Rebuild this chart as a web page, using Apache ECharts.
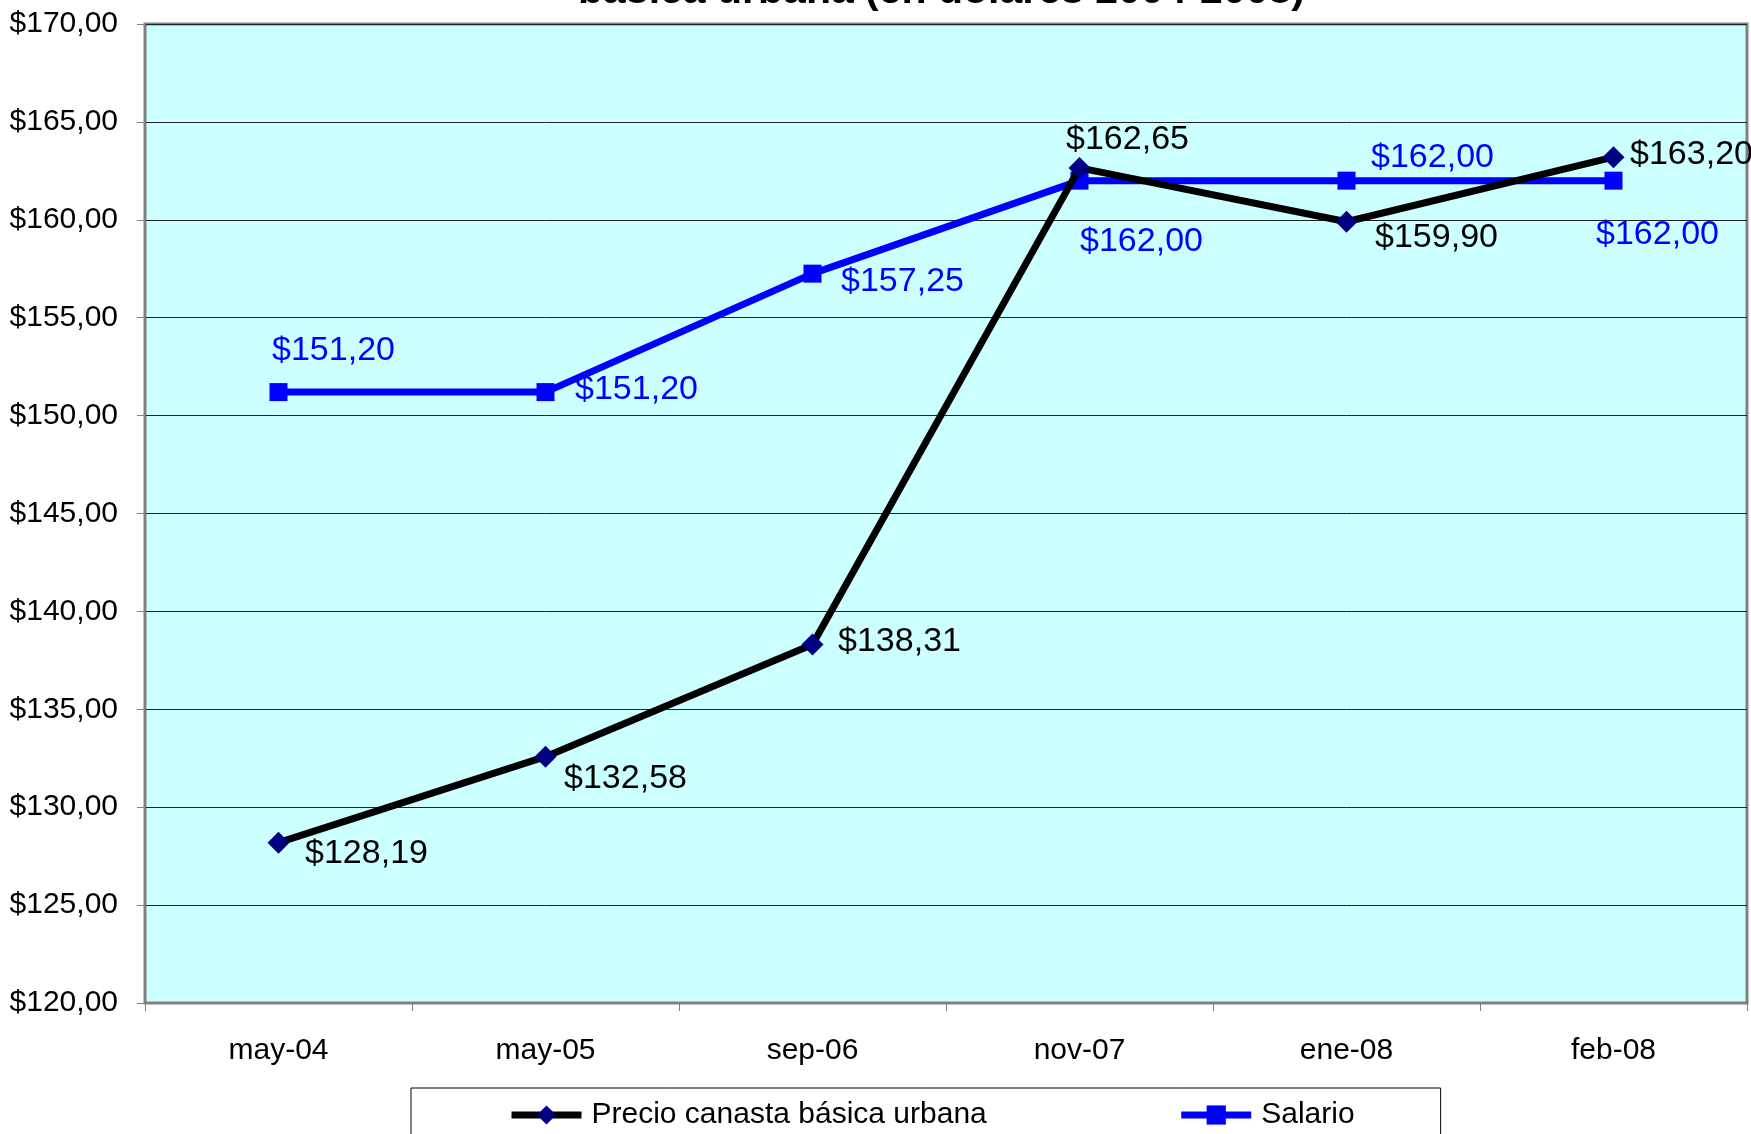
<!DOCTYPE html>
<html>
<head>
<meta charset="utf-8">
<script src="https://cdn.jsdelivr.net/npm/echarts@6/dist/echarts.min.js"></script>
<style>
  html, body { margin: 0; padding: 0; background: #fff; }
  #chart { width: 1751px; height: 1134px; }
</style>
</head>
<body>
<div id="chart"></div>
<script>
  // datos
  var categorias = ['may-04', 'may-05', 'sep-06', 'nov-07', 'ene-08', 'feb-08'];
  var canasta = [128.19, 132.58, 138.31, 162.65, 159.90, 163.20];
  var salario = [151.20, 151.20, 157.25, 162.00, 162.00, 162.00];
  var nombreCanasta = 'Precio canasta básica urbana';
  var nombreSalario = 'Salario';
  var titulo = 'básica urbana (en dólares 2004-2008)';

  // desplazamiento de etiquetas (centro respecto al punto)
  var offCanasta = [[88, 11], [80, 22], [87, -3], [48, -28], [90, 16], [78, -3]];
  var offSalario = [[55, -41], [91, -2], [90, 8], [62, 61], [86, -23], [44, 54]];

  function money(v) {
    return '$' + v.toFixed(2).replace('.', ',');
  }

  function withLabels(values, offs, color) {
    return values.map(function (v, i) {
      return {
        value: v,
        label: {
          show: true,
          position: 'inside',
          offset: offs[i],
          color: color,
          fontSize: 34,
          fontFamily: 'Liberation Sans, Arial, sans-serif',
          formatter: function (p) { return money(p.value); }
        }
      };
    });
  }

  var myChart = echarts.init(document.getElementById('chart'));

  var option = {
    backgroundColor: '#ffffff',
    animation: false,
    textStyle: { fontFamily: 'Liberation Sans, Arial, sans-serif' },
    title: {
      text: titulo,
      left: 573,
      top: -34,
      textStyle: { fontSize: 41, fontWeight: 'bold', color: '#000' }
    },
    grid: {
      left: 145,
      top: 24,
      right: 4,
      bottom: 131,
      show: true,
      backgroundColor: '#ccffff',
      borderColor: '#808080',
      borderWidth: 3
    },
    legend: {
      left: 411,
      top: 1088,
      width: 1026,
      padding: [12, 86, 40, 97],
      itemGap: 191,
      itemWidth: 70,
      itemHeight: 24,
      borderColor: '#000',
      borderWidth: 1,
      lineStyle: { width: 7 },
      textStyle: { fontSize: 30, color: '#000', padding: [0, 0, 0, 5] },
      data: [nombreCanasta, nombreSalario]
    },
    xAxis: {
      type: 'category',
      data: categorias,
      boundaryGap: true,
      axisLine: { lineStyle: { color: '#808080', width: 2 } },
      axisTick: { show: true, length: 8, lineStyle: { color: '#808080', width: 1 } },
      axisLabel: { fontSize: 30, color: '#000', margin: 33 }
    },
    yAxis: {
      type: 'value',
      min: 120,
      max: 170,
      interval: 5,
      axisLine: { show: true, lineStyle: { color: '#808080', width: 2 } },
      axisTick: { show: true, length: 8, lineStyle: { color: '#808080', width: 1 } },
      axisLabel: {
        fontSize: 30,
        color: '#000',
        margin: 27,
        formatter: function (v) { return money(v); }
      },
      splitLine: { lineStyle: { color: '#222', width: 1 } }
    },
    series: [
      {
        name: nombreCanasta,
        type: 'line',
        data: withLabels(canasta, offCanasta, '#000'),
        symbol: 'diamond',
        symbolSize: 22,
        lineStyle: { color: '#000', width: 7 },
        itemStyle: { color: '#000080' },
        z: 3
      },
      {
        name: nombreSalario,
        type: 'line',
        data: withLabels(salario, offSalario, '#0000ff'),
        symbol: 'rect',
        symbolSize: 18,
        lineStyle: { color: '#0000ff', width: 7 },
        itemStyle: { color: '#0000ff' },
        z: 2
      }
    ]
  };

  myChart.setOption(option);
</script>
</body>
</html>
